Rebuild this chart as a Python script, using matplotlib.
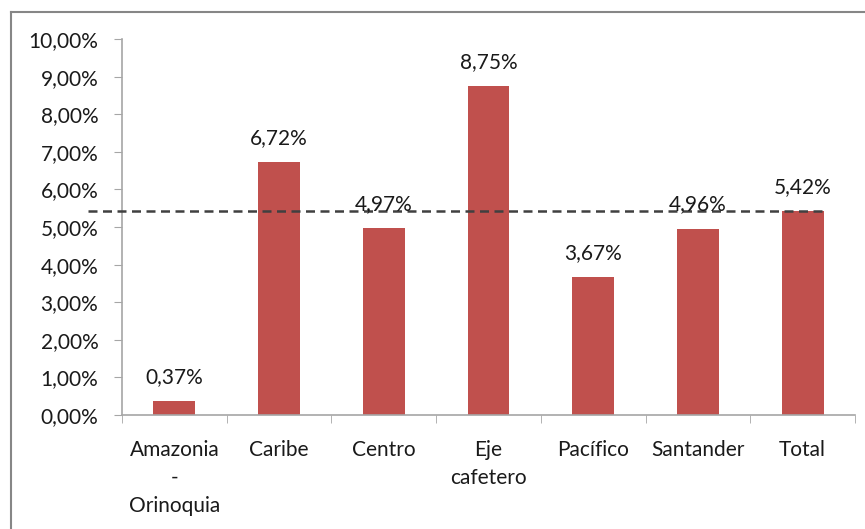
import matplotlib
matplotlib.use("Agg")
import matplotlib.pyplot as plt
from matplotlib.lines import Line2D

categories = ["Amazonia\n-\nOrinoquia", "Caribe", "Centro", "Eje\ncafetero", "Pacífico", "Santander", "Total"]
values = [0.37, 6.72, 4.97, 8.75, 3.67, 4.96, 5.42]
labels = ["0,37%", "6,72%", "4,97%", "8,75%", "3,67%", "4,96%", "5,42%"]
yticks = [0, 1, 2, 3, 4, 5, 6, 7, 8, 9, 10]
ytick_labels = ["0,00%", "1,00%", "2,00%", "3,00%", "4,00%", "5,00%", "6,00%", "7,00%", "8,00%", "9,00%", "10,00%"]
reference = 5.42

plt.rcParams['font.family'] = ['Lato', 'DejaVu Sans']
W, H = 865, 529
fig = plt.figure(figsize=(W/100, H/100), dpi=100)
ax = fig.add_axes([122/W, 1-415/H, (855-122)/W, (415-39)/H])

bar_color = "#C0504D"
txt_color = "#1a1a1a"
x = list(range(len(categories)))
ax.bar(x, values, width=0.4, color=bar_color, zorder=2)
ax.set_xlim(-0.5, len(categories)-0.5)
ax.set_ylim(0, 10)
ax.set_yticks(yticks)
ax.set_yticklabels(ytick_labels, fontsize=15, color=txt_color)
ax.set_xticks(x)
ax.set_xticklabels(categories, fontsize=15, color=txt_color, linespacing=1.5, va="top")
ax.tick_params(axis="x", length=0, pad=18)
ax.tick_params(axis="y", length=6, color="#A6A6A6", pad=11)
# minor ticks between categories
ax.set_xticks([i - 0.5 for i in range(len(categories)+1)], minor=True)
ax.tick_params(axis="x", which="minor", length=6, color="#A6A6A6")
for s in ["top", "right"]:
    ax.spines[s].set_visible(False)
for s in ["left", "bottom"]:
    ax.spines[s].set_color("#A6A6A6")
    ax.spines[s].set_linewidth(1.2)

for xi, v, lab in zip(x, values, labels):
    ax.annotate(lab, (xi, v), xytext=(0, 17.5), textcoords="offset points",
                ha="center", va="center", fontsize=15, color=txt_color, zorder=4)

ax.plot([-0.825, 6.23], [reference, reference], linestyle=(0, (3.6, 2.2)), color="#404040",
        linewidth=1.8, clip_on=False, zorder=3)

# outer chart frame (left and top visible)
fig.add_artist(Line2D([11/W, 11/W], [0, 1-12/H], color="#868686", linewidth=1.5, transform=fig.transFigure))
fig.add_artist(Line2D([11/W, 1], [1-12/H, 1-12/H], color="#868686", linewidth=1.5, transform=fig.transFigure))

fig.savefig("out.png", dpi=100)
